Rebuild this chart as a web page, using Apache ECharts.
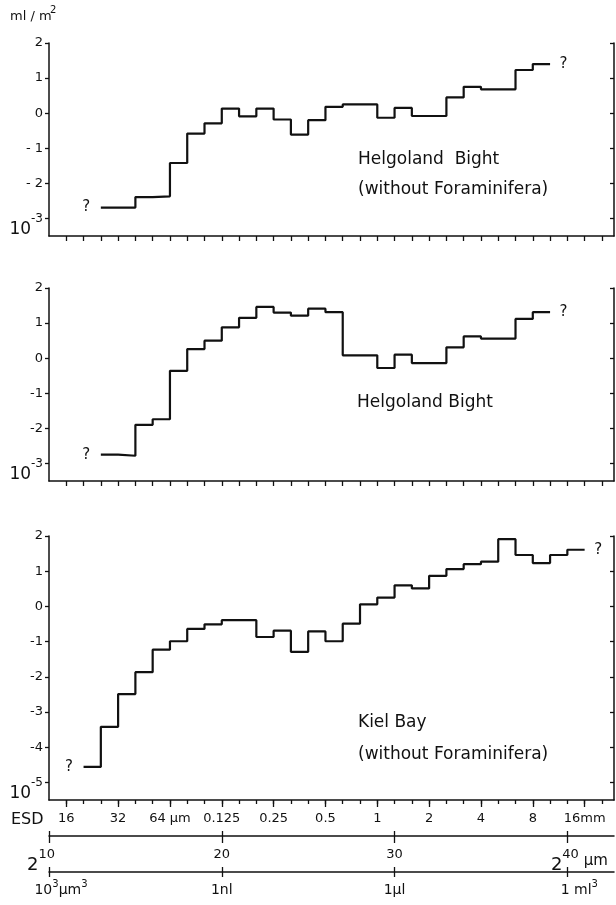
<!DOCTYPE html>
<html>
<head>
<meta charset="utf-8">
<script src="https://cdn.jsdelivr.net/npm/echarts@6/dist/echarts.min.js"></script>
<style>
  html, body { margin: 0; padding: 0; background: #fff; }
  #chart { width: 616px; height: 905px; }
</style>
</head>
<body>
<div id="chart"></div>
<script>
// Size classes on a log2 volume scale (µm³, 2^10 ... 2^42); one octave per bin.
// Values are log10 of biovolume (ml / m²) per size class.

// Helgoland Bight, without Foraminifera (first class 2^13)
const helgolandNoForamStart = 13;
const helgolandNoForam = [
  -2.69, -2.69, -2.39, -2.37, -1.42, -0.58, -0.29, 0.13, -0.09, 0.13,
  -0.18, -0.61, -0.20, 0.18, 0.25, 0.25, -0.13, 0.15, -0.08, -0.08,
  0.45, 0.75, 0.68, 0.68, 1.23, 1.40
];

// Helgoland Bight, all groups (first class 2^13)
const helgolandStart = 13;
const helgoland = [
  -2.75, -2.78, -1.90, -1.74, -0.36, 0.26, 0.50, 0.88, 1.15, 1.46,
  1.30, 1.21, 1.41, 1.31, 0.08, 0.08, -0.28, 0.10, -0.14, -0.14,
  0.31, 0.62, 0.56, 0.56, 1.12, 1.31
];

// Kiel Bay, without Foraminifera (first class 2^12)
const kielStart = 12;
const kiel = [
  -4.56, -3.42, -2.49, -1.87, -1.23, -0.99, -0.64, -0.51, -0.39, -0.39,
  -0.87, -0.69, -1.29, -0.71, -0.99, -0.49, 0.06, 0.25, 0.60, 0.51,
  0.87, 1.06, 1.20, 1.27, 1.91, 1.46, 1.23, 1.46, 1.61
];

// Axis ticks and labels
const sizeTicks = [11, 12, 13, 14, 15, 16, 17, 18, 19, 20, 21, 22, 23, 24, 25, 26,
  27, 28, 29, 30, 31, 32, 33, 34, 35, 36, 37, 38, 39, 40, 41, 42];
const esdTicks = [11, 14, 17, 20, 23, 26, 29, 32, 35, 38, 41];
const esdLabels = ['16', '32', '64 µm', '0.125', '0.25', '0.5', '1', '2', '4', '8', '16mm'];
const powerTicks = [10, 20, 30, 40];
const powerLabels = ['10', '20', '30', '40'];
const volumeLabels = ['10³µm³', '1nl', '1µl', '1 ml³'];

const yTicksHelgoland = [-3, -2, -1, 0, 1, 2];
const yTextTop = ['-3', '- 2', '- 1', '0', '1', '2'];
const yTextMid = ['-3', '-2', '-1', '0', '1', '2'];
const yTicksKiel = [-5, -4, -3, -2, -1, 0, 1, 2];
const yTextKiel = ['-5', '-4', '-3', '-2', '-1', '0', '1', '2'];

const X_MIN = 10, X_MAX = 42.7;
const INK = '#111111';
const FONT = 'DejaVu Sans';

function stepData(start, vals) {
  const pts = vals.map((v, i) => [start + i, v]);
  pts.push([start + vals.length, vals[vals.length - 1]]);
  return pts;
}

const grids = [
  { left: 49, top: 43, width: 565, height: 193 },
  { left: 49, top: 288, width: 565, height: 193 },
  { left: 49, top: 536, width: 565, height: 264 }
];

const axisLineStyle = { color: INK, width: 1.5 };
const tickStyle = { color: INK, width: 1.3 };

function sizeAxis(gridIndex, tickLen) {
  return {
    type: 'value', gridIndex, min: X_MIN, max: X_MAX, position: 'bottom',
    splitLine: { show: false },
    axisLine: { show: true, onZero: false, lineStyle: axisLineStyle },
    axisTick: { show: true, customValues: sizeTicks, length: tickLen, lineStyle: tickStyle },
    axisLabel: { show: false }
  };
}

// Left value axis: the lowest tick is written as a power of ten
function leftAxis(gridIndex, min, ticks, texts) {
  return {
    type: 'value', gridIndex, min, max: 2, position: 'left',
    splitLine: { show: false },
    axisLine: { show: true, onZero: false, lineStyle: axisLineStyle },
    axisTick: { show: true, customValues: ticks, length: 4, lineStyle: tickStyle },
    axisLabel: {
      show: true, customValues: ticks, margin: 6, color: INK,
      fontFamily: FONT, fontSize: 13,
      formatter: (v) => {
        const i = ticks.indexOf(v);
        if (i === 0) return '{b|10}{s|' + texts[0] + '}';
        return texts[i];
      },
      rich: {
        b: { fontFamily: FONT, fontSize: 17, lineHeight: 16, verticalAlign: 'bottom', color: INK },
        s: { fontFamily: FONT, fontSize: 12, lineHeight: 40, verticalAlign: 'middle', color: INK }
      }
    }
  };
}

function rightAxis(gridIndex, min, ticks) {
  return {
    type: 'value', gridIndex, min, max: 2, position: 'right',
    splitLine: { show: false },
    axisLine: { show: true, onZero: false, lineStyle: axisLineStyle },
    axisTick: { show: true, inside: true, customValues: ticks, length: 4, lineStyle: tickStyle },
    axisLabel: { show: false }
  };
}

const xAxes = [
  sizeAxis(0, 5),
  sizeAxis(1, 5),
  sizeAxis(2, 4),
  // ESD scale: longer ticks every third octave, with labels
  {
    type: 'value', gridIndex: 2, min: X_MIN, max: X_MAX, position: 'bottom',
    splitLine: { show: false },
    axisLine: { show: false, onZero: false },
    axisTick: { show: true, customValues: esdTicks, length: 7, lineStyle: tickStyle },
    axisLabel: {
      show: true, customValues: esdTicks, margin: 12, color: INK,
      fontFamily: FONT, fontSize: 13,
      formatter: (v) => esdLabels[esdTicks.indexOf(v)]
    }
  },
  // power-of-two volume scale
  {
    type: 'value', gridIndex: 2, min: X_MIN, max: X_MAX, position: 'bottom', offset: 36,
    splitLine: { show: false },
    axisLine: { show: true, onZero: false, lineStyle: axisLineStyle },
    axisTick: { show: true, customValues: powerTicks, length: 7, lineStyle: tickStyle },
    axisLabel: {
      show: true, customValues: powerTicks, margin: 12, color: INK,
      fontFamily: FONT, fontSize: 13,
      formatter: (v) => {
        const i = powerTicks.indexOf(v);
        if (i === 0) return '{b|2}{s|' + powerLabels[i] + '}{pr| }';
        if (i === powerTicks.length - 1) return '{pl| }{b|2}{s|' + powerLabels[i] + '}{u| µm}';
        return '{n|' + powerLabels[i] + '}';
      },
      rich: {
        n: { fontFamily: FONT, fontSize: 13, lineHeight: 14, verticalAlign: 'top', color: INK },
        s: { fontFamily: FONT, fontSize: 13, lineHeight: 14, verticalAlign: 'top', color: INK },
        b: { fontFamily: FONT, fontSize: 18, lineHeight: 18, verticalAlign: 'bottom', color: INK },
        u: { fontFamily: FONT, fontSize: 15, lineHeight: 26, verticalAlign: 'middle', color: INK },
        pr: { width: 16, lineHeight: 26 },
        pl: { width: 24, lineHeight: 26 }
      }
    }
  },
  {
    type: 'value', gridIndex: 2, min: X_MIN, max: X_MAX, position: 'bottom', offset: 36,
    splitLine: { show: false },
    axisLine: { show: false, onZero: false },
    axisTick: { show: true, inside: true, customValues: powerTicks, length: 5, lineStyle: tickStyle },
    axisLabel: { show: false }
  },
  // absolute volume scale
  {
    type: 'value', gridIndex: 2, min: X_MIN, max: X_MAX, position: 'bottom', offset: 72,
    splitLine: { show: false },
    axisLine: { show: true, onZero: false, lineStyle: axisLineStyle },
    axisTick: { show: true, customValues: powerTicks, length: 5, lineStyle: tickStyle },
    axisLabel: {
      show: true, customValues: powerTicks, margin: 7, color: INK,
      fontFamily: FONT, fontSize: 14,
      formatter: (v) => {
        const t = volumeLabels[powerTicks.indexOf(v)];
        // superscript every '³'
        const parts = t.split('³');
        let out = '';
        parts.forEach((p, k) => {
          if (p) out += '{n|' + p + '}';
          if (k < parts.length - 1) out += '{s|3}';
        });
        if (v === powerTicks[0] || v === powerTicks[powerTicks.length - 1]) out = '{pl| }' + out;
        return out;
      },
      rich: {
        n: { fontFamily: FONT, fontSize: 14, lineHeight: 22, verticalAlign: 'middle', color: INK },
        s: { fontFamily: FONT, fontSize: 10, lineHeight: 8, verticalAlign: 'top', color: INK },
        pl: { width: 24, lineHeight: 22 }
      }
    }
  },
  {
    type: 'value', gridIndex: 2, min: X_MIN, max: X_MAX, position: 'bottom', offset: 72,
    splitLine: { show: false },
    axisLine: { show: false, onZero: false },
    axisTick: { show: true, inside: true, customValues: powerTicks, length: 5, lineStyle: tickStyle },
    axisLabel: { show: false }
  }
];

const yAxes = [
  leftAxis(0, -3.5, yTicksHelgoland, yTextTop),
  rightAxis(0, -3.5, yTicksHelgoland),
  leftAxis(1, -3.5, yTicksHelgoland, yTextMid),
  rightAxis(1, -3.5, yTicksHelgoland),
  leftAxis(2, -5.5, yTicksKiel, yTextKiel),
  rightAxis(2, -5.5, yTicksKiel)
];

function stepSeries(xi, yi, start, vals) {
  return {
    type: 'line', xAxisIndex: xi, yAxisIndex: yi, step: 'end',
    showSymbol: false, silent: true,
    lineStyle: { color: INK, width: 2.2 },
    data: stepData(start, vals)
  };
}

// "?" at both open ends of each size spectrum
function openEnds(xi, yi, start, vals) {
  const pts = stepData(start, vals);
  return {
    type: 'scatter', xAxisIndex: xi, yAxisIndex: yi, silent: true,
    symbolSize: 1, itemStyle: { color: 'rgba(0,0,0,0)', opacity: 1 },
    label: { show: true, formatter: '?', color: INK, opacity: 1, fontFamily: FONT, fontSize: 15 },
    data: [
      { value: pts[0], label: { position: 'left', distance: 10 } },
      { value: pts[pts.length - 1], label: { position: 'right', distance: 9 } }
    ]
  };
}

function txt(text, x, y, size) {
  return {
    type: 'text', x, y, silent: true,
    style: { text, fill: INK, font: size + 'px "DejaVu Sans"', verticalAlign: 'middle', textVerticalAlign: 'middle' }
  };
}

const option = {
  animation: false,
  backgroundColor: '#fff',
  grid: grids,
  xAxis: xAxes,
  yAxis: yAxes,
  series: [
    stepSeries(0, 0, helgolandNoForamStart, helgolandNoForam),
    openEnds(0, 0, helgolandNoForamStart, helgolandNoForam),
    stepSeries(1, 2, helgolandStart, helgoland),
    openEnds(1, 2, helgolandStart, helgoland),
    stepSeries(2, 4, kielStart, kiel),
    openEnds(2, 4, kielStart, kiel)
  ],
  graphic: [
    txt('ml / m', 10, 17, 13),
    txt('2', 50, 10, 10),
    txt('Helgoland  Bight', 358, 160, 17),
    txt('(without Foraminifera)', 358, 190, 17),
    txt('Helgoland Bight', 357, 403, 17),
    txt('Kiel Bay', 358, 723, 17),
    txt('(without Foraminifera)', 358, 755, 17),
    txt('ESD', 11, 820, 16)
  ]
};

const chart = echarts.init(document.getElementById('chart'), null, { renderer: 'canvas' });
chart.setOption(option);
</script>
</body>
</html>
